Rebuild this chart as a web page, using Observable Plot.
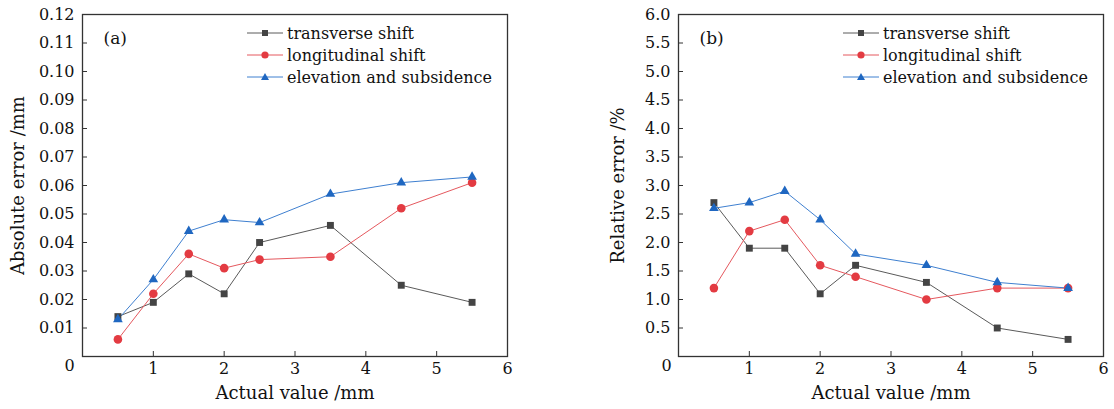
<!DOCTYPE html>
<html>
<head>
<meta charset="utf-8">
<script src="https://cdn.jsdelivr.net/npm/d3@7"></script>
<script src="https://cdn.jsdelivr.net/npm/@observablehq/plot@0.6"></script>
<style>
  html, body { margin: 0; padding: 0; background: #fff; }
  #wrap { position: relative; width: 1114px; height: 409px; overflow: hidden; font-family: "DejaVu Serif", serif; color: #111; }
  .panel { position: absolute; top: 0; width: 557px; height: 409px; }
  .legend { position: absolute; font-family: "DejaVu Serif", serif; font-size: 16px; color: #111; }
  .legend .row { display: flex; align-items: center; height: 22px; white-space: nowrap; }
  .legend svg { margin-right: 4px; }
</style>
</head>
<body>
<div id="wrap"></div>
<script>
// ---- data ----
const actualValues = [0.5, 1, 1.5, 2, 2.5, 3.5, 4.5, 5.5];
const seriesNames = ["transverse shift", "longitudinal shift", "elevation and subsidence"];

const absTransverse   = [0.014, 0.019, 0.029, 0.022, 0.040, 0.046, 0.025, 0.019];
const absLongitudinal = [0.006, 0.022, 0.036, 0.031, 0.034, 0.035, 0.052, 0.061];
const absElevation    = [0.013, 0.027, 0.044, 0.048, 0.047, 0.057, 0.061, 0.063];

const relTransverse   = [2.7, 1.9, 1.9, 1.1, 1.6, 1.3, 0.5, 0.3];
const relLongitudinal = [1.2, 2.2, 2.4, 1.6, 1.4, 1.0, 1.2, 1.2];
const relElevation    = [2.6, 2.7, 2.9, 2.4, 1.8, 1.6, 1.3, 1.2];

const xTicks = [1, 2, 3, 4, 5, 6];
const xTickMarks = [1, 2, 3, 4, 5];
const absTicks = [0.01, 0.02, 0.03, 0.04, 0.05, 0.06, 0.07, 0.08, 0.09, 0.10, 0.11, 0.12];
const relTicks = [0.5, 1.0, 1.5, 2.0, 2.5, 3.0, 3.5, 4.0, 4.5, 5.0, 5.5, 6.0];

// ---- styles ----
const styles = [
  {symbol: "square",   r: 3.9, fill: "#444444", line: "#5a5a5a"},
  {symbol: "circle",   r: 4.3, fill: "#e33b42", line: "#e5585e"},
  {symbol: "triangle", r: 3.6, fill: "#1f67c1", line: "#3f80d0"}
];

function tidy(seriesArrays) {
  const out = [];
  seriesArrays.forEach((vals, si) => {
    vals.forEach((v, i) => out.push({series: seriesNames[si], si, x: actualValues[i], y: v}));
  });
  return out;
}

function panel({data, yDomain, yTicks, yFormat, yLabel, tag, marginLeft, marginRight, zeroDx, titleDx}) {
  const marks = [
    Plot.frame({stroke: "#333", strokeWidth: 1.3}),
    // inward ticks
    Plot.axisX({ticks: xTickMarks, tickSize: 5, dy: -5, text: null, label: null, stroke: "#333"}),
    Plot.axisY({ticks: yTicks.slice(0, -1), tickSize: 5, dx: 5, text: null, label: null, stroke: "#333"}),
    // tick labels
    Plot.axisX({ticks: xTicks, tickSize: 0, tickPadding: 6, label: null, tickFormat: d3.format("d"), fontSize: 16, fill: "#111"}),
    Plot.axisY({ticks: yTicks, tickSize: 0, tickPadding: 8, label: null, tickFormat: d3.format(yFormat), fontSize: 16, fill: "#111"}),
    Plot.text([0], {x: d => d, frameAnchor: "bottom", dy: 14, dx: zeroDx, text: d => String(d), fontSize: 16, fill: "#111"}),
    // axis titles
    Plot.text(["Actual value /mm"], {frameAnchor: "bottom", dy: 37, lineAnchor: "middle", textAnchor: "middle", fontSize: 18, fill: "#111"}),
    Plot.text([yLabel], {frameAnchor: "left", dx: titleDx, rotate: -90, textAnchor: "middle", lineAnchor: "middle", fontSize: 18, fill: "#111"}),
    Plot.text([tag], {frameAnchor: "top-left", dx: 21, dy: 24, textAnchor: "start", lineAnchor: "middle", fontSize: 17, fill: "#111"})
  ];
  styles.forEach((s, si) => {
    const d = data.filter(r => r.si === si);
    marks.push(Plot.line(d, {x: "x", y: "y", stroke: s.line, strokeWidth: 1}));
  });
  styles.forEach((s, si) => {
    const d = data.filter(r => r.si === si);
    marks.push(Plot.dot(d, {x: "x", y: "y", symbol: () => s.symbol, r: s.r, fill: s.fill, stroke: "none"}));
  });
  return Plot.plot({
    width: 557, height: 409,
    marginLeft, marginRight, marginTop: 14, marginBottom: 53,
    style: {fontFamily: "DejaVu Serif, serif", fontSize: "16px", color: "#111", background: "transparent"},
    x: {domain: [0, 6], axis: null},
    y: {domain: yDomain, axis: null},
    symbol: {type: "identity"},
    marks
  });
}

function legend(left, top, lineLen) {
  const div = document.createElement("div");
  div.className = "legend";
  div.style.left = left + "px";
  div.style.top = top + "px";
  styles.forEach((s, i) => {
    const row = document.createElement("div");
    row.className = "row";
    const w = lineLen, c = w / 2;
    let marker;
    if (s.symbol === "square") marker = `<rect x="${c-3}" y="8" width="6" height="6" fill="${s.fill}"/>`;
    else if (s.symbol === "circle") marker = `<circle cx="${c}" cy="11" r="3.6" fill="${s.fill}"/>`;
    else marker = `<path d="M${c},7 L${c+4},14 L${c-4},14 Z" fill="${s.fill}"/>`;
    row.innerHTML = `<svg width="${w}" height="22"><line x1="0" x2="${w}" y1="11" y2="11" stroke="${s.line}" stroke-width="1"/>${marker}</svg><span>${seriesNames[i]}</span>`;
    div.appendChild(row);
  });
  return div;
}

const wrap = document.getElementById("wrap");

const left = document.createElement("div");
left.className = "panel"; left.style.left = "0px";
left.appendChild(panel({
  data: tidy([absTransverse, absLongitudinal, absElevation]),
  yDomain: [0, 0.12], yTicks: absTicks, yFormat: ".2f",
  yLabel: "Absolute error /mm", tag: "(a)",
  marginLeft: 82, marginRight: 50, zeroDx: -13, titleDx: -64
}));
wrap.appendChild(left);

const right = document.createElement("div");
right.className = "panel"; right.style.left = "557px";
right.appendChild(panel({
  data: tidy([relTransverse, relLongitudinal, relElevation]),
  yDomain: [0, 6], yTicks: relTicks, yFormat: ".1f",
  yLabel: "Relative error /%", tag: "(b)",
  marginLeft: 121, marginRight: 11, zeroDx: -12, titleDx: -60
}));
wrap.appendChild(right);

wrap.appendChild(legend(247, 22, 36));
wrap.appendChild(legend(843, 22, 36));
</script>
</body>
</html>
